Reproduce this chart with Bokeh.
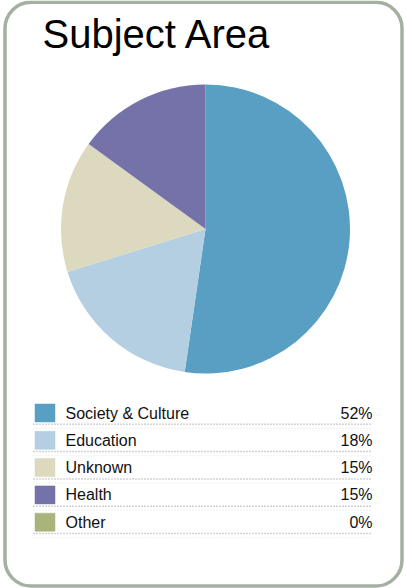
import numpy as np
from bokeh.plotting import figure
from bokeh.models import Range1d, BoxAnnotation, ColumnDataSource
from bokeh.core.properties import value
from bokeh.embed import file_html
from bokeh.resources import INLINE

title = "Subject Area"
categories = ["Society & Culture", "Education", "Unknown", "Health", "Other"]
shares = [52.3, 17.9, 14.8, 15.0, 0.0]          # percent share
labels = ["52%", "18%", "15%", "15%", "0%"]      # percent labels as printed
colors = ["#599fc3", "#b3cfe1", "#dcd9bf", "#7571a9", "#a9b47b"]

W, H = 406, 588
FONT = value("Liberation Sans")

p = figure(width=W, height=H, output_backend="svg", toolbar_location=None,
           x_range=Range1d(0, W), y_range=Range1d(0, H), min_border=0,
           outline_line_color=None, background_fill_color="white",
           border_fill_color="white")
p.axis.visible = False
p.grid.visible = False

def Y(py):
    return H - py

# card border
p.add_layout(BoxAnnotation(left=4.5, right=401.5, top=Y(1.8), bottom=Y(585.5),
                           border_radius=26, fill_alpha=0, line_alpha=1.0,
                           line_color="#a4b1a1", line_width=3.5))

# title
p.text(x=[42], y=[Y(33)], text=[title], text_font=FONT, text_font_size="40px",
       text_color="black", text_baseline="alphabetic", text_align="left")

# pie (zero-valued slices are not drawn)
vals = np.array(shares, dtype=float)
frac = vals / vals.sum()
cum = np.concatenate([[0], np.cumsum(frac)])
start = np.pi / 2 - cum[:-1] * 2 * np.pi
end = np.pi / 2 - cum[1:] * 2 * np.pi
keep = vals > 0
src = ColumnDataSource(dict(start=start[keep], end=end[keep],
                            color=[c for c, k in zip(colors, keep) if k]))
p.wedge(x=205, y=Y(228.5), radius=144.5, start_angle="start", end_angle="end",
        direction="clock", fill_color="color", line_color=None, source=src)

# legend
row0 = 412.5
dy = 27.3
n = len(categories)
rows = [row0 + i * dy for i in range(n)]
p.rect(x=[44.5] * n, y=[Y(r) for r in rows], width=20, height=18,
       fill_color=colors, line_color=colors, line_alpha=0.5, line_width=1)
p.text(x=[65] * n, y=[Y(r) for r in rows], text=categories, text_font=FONT,
       text_font_size="16px", text_color="#111111", text_baseline="middle")
p.text(x=[372] * n, y=[Y(r) for r in rows], text=labels,
       text_font=FONT, text_font_size="16px", text_color="#111111",
       text_baseline="middle", text_align="right")
sep = [r + 11.3 for r in rows]
p.segment(x0=[33] * n, x1=[372] * n, y0=[Y(s) for s in sep], y1=[Y(s) for s in sep],
          line_color="#a8a8a8", line_width=1.5, line_dash="1 2")
p.segment(x0=[33] * n, x1=[372] * n, y0=[Y(s + 4) for s in sep], y1=[Y(s + 4) for s in sep],
          line_color="#e8e8e8", line_width=1.2, line_dash="1 2")

open("out.html", "w").write(file_html(p, INLINE))
